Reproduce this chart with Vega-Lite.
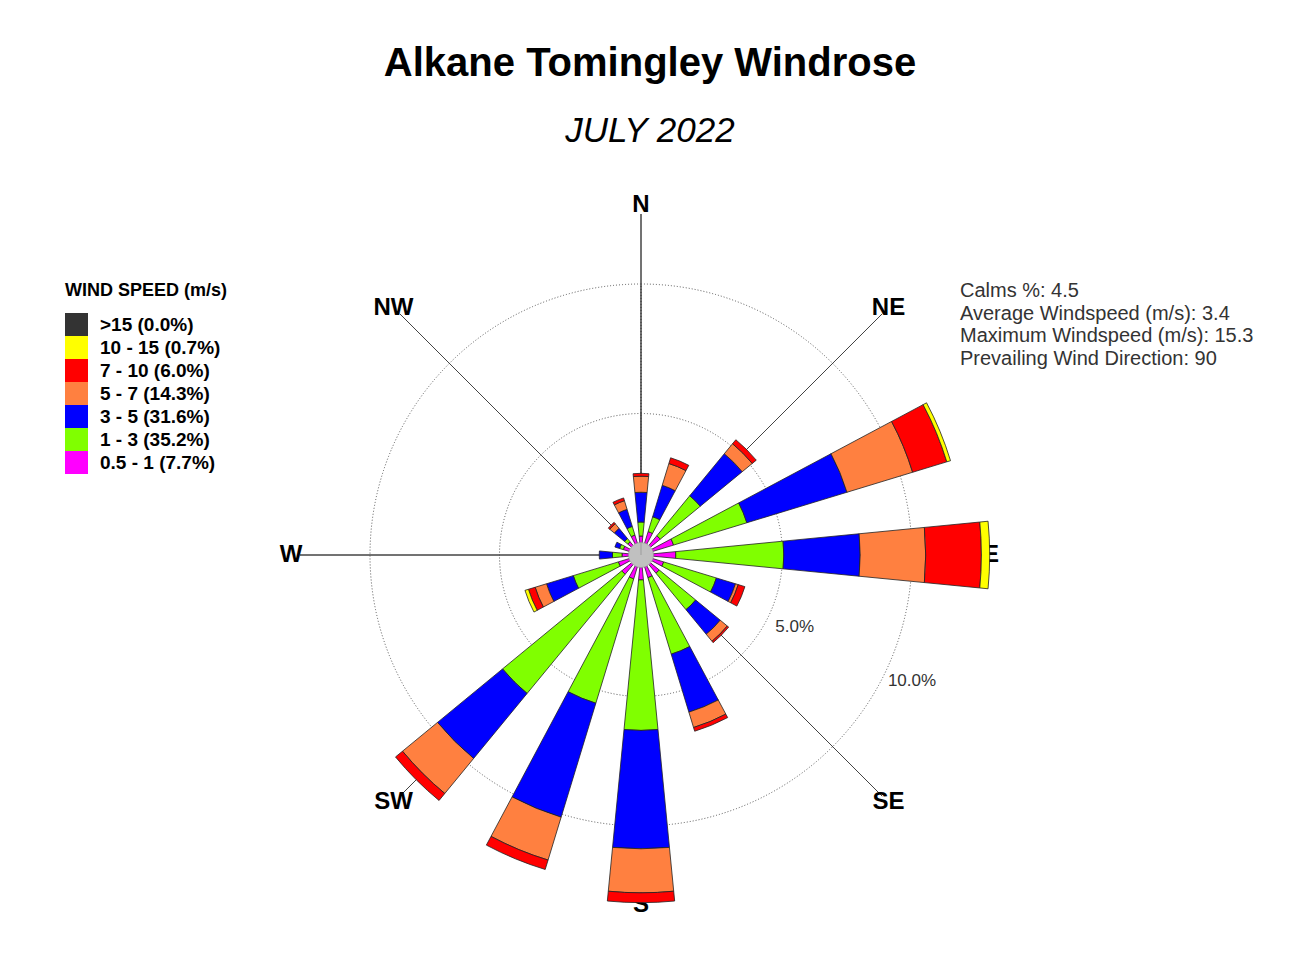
{
  "$schema": "https://vega.github.io/schema/vega-lite/v6.json",
  "width": 1282,
  "height": 720,
  "autosize": "none",
  "padding": {"left": 0, "top": 195, "right": 18, "bottom": 46},
  "background": "white",
  "title": {
    "text": "Alkane Tomingley Windrose",
    "subtitle": "JULY  2022",
    "anchor": "middle",
    "frame": "group",
    "dx": 9,
    "offset": 44,
    "font": "Liberation Sans",
    "fontSize": 40,
    "fontWeight": "bold",
    "color": "black",
    "subtitleFont": "Liberation Sans",
    "subtitleFontSize": 35,
    "subtitleFontStyle": "italic",
    "subtitleFontWeight": "normal",
    "subtitleColor": "black",
    "subtitlePadding": 30
  },
  "config": {
    "view": {"stroke": null},
    "legend": {
      "orient": "none",
      "padding": 0
    }
  },
  "datasets": {
    "rose": [
      {"dir": 0, "cls": "0.5 - 1 (7.7%)", "lo": 0.5, "pct": 0.27},
      {"dir": 0, "cls": "1 - 3 (35.2%)", "lo": 1, "pct": 0.54},
      {"dir": 0, "cls": "3 - 5 (31.6%)", "lo": 3, "pct": 1.15},
      {"dir": 0, "cls": "5 - 7 (14.3%)", "lo": 5, "pct": 0.62},
      {"dir": 0, "cls": "7 - 10 (6.0%)", "lo": 7, "pct": 0.11},
      {"dir": 22.5, "cls": "0.5 - 1 (7.7%)", "lo": 0.5, "pct": 0.48},
      {"dir": 22.5, "cls": "1 - 3 (35.2%)", "lo": 1, "pct": 0.6},
      {"dir": 22.5, "cls": "3 - 5 (31.6%)", "lo": 3, "pct": 1.27},
      {"dir": 22.5, "cls": "5 - 7 (14.3%)", "lo": 5, "pct": 0.88},
      {"dir": 22.5, "cls": "7 - 10 (6.0%)", "lo": 7, "pct": 0.23},
      {"dir": 45, "cls": "0.5 - 1 (7.7%)", "lo": 0.5, "pct": 0.5},
      {"dir": 45, "cls": "1 - 3 (35.2%)", "lo": 1, "pct": 2.0},
      {"dir": 45, "cls": "3 - 5 (31.6%)", "lo": 3, "pct": 2.1},
      {"dir": 45, "cls": "5 - 7 (14.3%)", "lo": 5, "pct": 0.5},
      {"dir": 45, "cls": "7 - 10 (6.0%)", "lo": 7, "pct": 0.2},
      {"dir": 67.5, "cls": "0.5 - 1 (7.7%)", "lo": 0.5, "pct": 0.85},
      {"dir": 67.5, "cls": "1 - 3 (35.2%)", "lo": 1, "pct": 2.96},
      {"dir": 67.5, "cls": "3 - 5 (31.6%)", "lo": 3, "pct": 4.04},
      {"dir": 67.5, "cls": "5 - 7 (14.3%)", "lo": 5, "pct": 2.65},
      {"dir": 67.5, "cls": "7 - 10 (6.0%)", "lo": 7, "pct": 1.38},
      {"dir": 67.5, "cls": "10 - 15 (0.7%)", "lo": 10, "pct": 0.15},
      {"dir": 90, "cls": "0.5 - 1 (7.7%)", "lo": 0.5, "pct": 0.88},
      {"dir": 90, "cls": "1 - 3 (35.2%)", "lo": 1, "pct": 4.17},
      {"dir": 90, "cls": "3 - 5 (31.6%)", "lo": 3, "pct": 2.95},
      {"dir": 90, "cls": "5 - 7 (14.3%)", "lo": 5, "pct": 2.53},
      {"dir": 90, "cls": "7 - 10 (6.0%)", "lo": 7, "pct": 2.15},
      {"dir": 90, "cls": "10 - 15 (0.7%)", "lo": 10, "pct": 0.32},
      {"dir": 112.5, "cls": "0.5 - 1 (7.7%)", "lo": 0.5, "pct": 0.45},
      {"dir": 112.5, "cls": "1 - 3 (35.2%)", "lo": 1, "pct": 2.13},
      {"dir": 112.5, "cls": "3 - 5 (31.6%)", "lo": 3, "pct": 0.77},
      {"dir": 112.5, "cls": "5 - 7 (14.3%)", "lo": 5, "pct": 0.11},
      {"dir": 112.5, "cls": "7 - 10 (6.0%)", "lo": 7, "pct": 0.27},
      {"dir": 135, "cls": "0.5 - 1 (7.7%)", "lo": 0.5, "pct": 0.45},
      {"dir": 135, "cls": "1 - 3 (35.2%)", "lo": 1, "pct": 1.82},
      {"dir": 135, "cls": "3 - 5 (31.6%)", "lo": 3, "pct": 1.23},
      {"dir": 135, "cls": "5 - 7 (14.3%)", "lo": 5, "pct": 0.35},
      {"dir": 135, "cls": "7 - 10 (6.0%)", "lo": 7, "pct": 0.07},
      {"dir": 157.5, "cls": "0.5 - 1 (7.7%)", "lo": 0.5, "pct": 0.45},
      {"dir": 157.5, "cls": "1 - 3 (35.2%)", "lo": 1, "pct": 3.09},
      {"dir": 157.5, "cls": "3 - 5 (31.6%)", "lo": 3, "pct": 2.34},
      {"dir": 157.5, "cls": "5 - 7 (14.3%)", "lo": 5, "pct": 0.62},
      {"dir": 157.5, "cls": "7 - 10 (6.0%)", "lo": 7, "pct": 0.15},
      {"dir": 180, "cls": "0.5 - 1 (7.7%)", "lo": 0.5, "pct": 0.5},
      {"dir": 180, "cls": "1 - 3 (35.2%)", "lo": 1, "pct": 5.81},
      {"dir": 180, "cls": "3 - 5 (31.6%)", "lo": 3, "pct": 4.57},
      {"dir": 180, "cls": "5 - 7 (14.3%)", "lo": 5, "pct": 1.7},
      {"dir": 180, "cls": "7 - 10 (6.0%)", "lo": 7, "pct": 0.38},
      {"dir": 202.5, "cls": "0.5 - 1 (7.7%)", "lo": 0.5, "pct": 0.5},
      {"dir": 202.5, "cls": "1 - 3 (35.2%)", "lo": 1, "pct": 5.02},
      {"dir": 202.5, "cls": "3 - 5 (31.6%)", "lo": 3, "pct": 4.6},
      {"dir": 202.5, "cls": "5 - 7 (14.3%)", "lo": 5, "pct": 1.73},
      {"dir": 202.5, "cls": "7 - 10 (6.0%)", "lo": 7, "pct": 0.38},
      {"dir": 225, "cls": "0.5 - 1 (7.7%)", "lo": 0.5, "pct": 0.5},
      {"dir": 225, "cls": "1 - 3 (35.2%)", "lo": 1, "pct": 5.96},
      {"dir": 225, "cls": "3 - 5 (31.6%)", "lo": 3, "pct": 3.25},
      {"dir": 225, "cls": "5 - 7 (14.3%)", "lo": 5, "pct": 1.75},
      {"dir": 225, "cls": "7 - 10 (6.0%)", "lo": 7, "pct": 0.35},
      {"dir": 247.5, "cls": "0.5 - 1 (7.7%)", "lo": 0.5, "pct": 0.45},
      {"dir": 247.5, "cls": "1 - 3 (35.2%)", "lo": 1, "pct": 1.82},
      {"dir": 247.5, "cls": "3 - 5 (31.6%)", "lo": 3, "pct": 1.08},
      {"dir": 247.5, "cls": "5 - 7 (14.3%)", "lo": 5, "pct": 0.46},
      {"dir": 247.5, "cls": "7 - 10 (6.0%)", "lo": 7, "pct": 0.27},
      {"dir": 247.5, "cls": "10 - 15 (0.7%)", "lo": 10, "pct": 0.14},
      {"dir": 270, "cls": "0.5 - 1 (7.7%)", "lo": 0.5, "pct": 0.27},
      {"dir": 270, "cls": "1 - 3 (35.2%)", "lo": 1, "pct": 0.37},
      {"dir": 270, "cls": "3 - 5 (31.6%)", "lo": 3, "pct": 0.51},
      {"dir": 292.5, "cls": "0.5 - 1 (7.7%)", "lo": 0.5, "pct": 0.25},
      {"dir": 292.5, "cls": "1 - 3 (35.2%)", "lo": 1, "pct": 0.15},
      {"dir": 292.5, "cls": "3 - 5 (31.6%)", "lo": 3, "pct": 0.19},
      {"dir": 315, "cls": "0.5 - 1 (7.7%)", "lo": 0.5, "pct": 0.2},
      {"dir": 315, "cls": "1 - 3 (35.2%)", "lo": 1, "pct": 0.16},
      {"dir": 315, "cls": "3 - 5 (31.6%)", "lo": 3, "pct": 0.51},
      {"dir": 315, "cls": "5 - 7 (14.3%)", "lo": 5, "pct": 0.23},
      {"dir": 315, "cls": "7 - 10 (6.0%)", "lo": 7, "pct": 0.07},
      {"dir": 337.5, "cls": "0.5 - 1 (7.7%)", "lo": 0.5, "pct": 0.34},
      {"dir": 337.5, "cls": "1 - 3 (35.2%)", "lo": 1, "pct": 0.35},
      {"dir": 337.5, "cls": "3 - 5 (31.6%)", "lo": 3, "pct": 0.69},
      {"dir": 337.5, "cls": "5 - 7 (14.3%)", "lo": 5, "pct": 0.35},
      {"dir": 337.5, "cls": "7 - 10 (6.0%)", "lo": 7, "pct": 0.11}
    ],
    "compass": [
      {"dir": 0, "name": "N", "kind": "cardinal"},
      {"dir": 45, "name": "NE", "kind": "intercardinal"},
      {"dir": 90, "name": "E", "kind": "cardinal"},
      {"dir": 135, "name": "SE", "kind": "intercardinal"},
      {"dir": 180, "name": "S", "kind": "cardinal"},
      {"dir": 225, "name": "SW", "kind": "intercardinal"},
      {"dir": 270, "name": "W", "kind": "cardinal"},
      {"dir": 315, "name": "NW", "kind": "intercardinal"}
    ],
    "rings": [
      {"pct": 5, "label": "5.0%"},
      {"pct": 10, "label": "10.0%"}
    ],
    "stats": [
      {"stat": "Calms %:  4.5"},
      {"stat": "Average Windspeed (m/s):  3.4"},
      {"stat": "Maximum Windspeed (m/s):  15.3"},
      {"stat": "Prevailing Wind Direction:  90"}
    ]
  },
  "layer": [
    {
      "data": {"name": "rings"},
      "mark": {"type": "arc", "theta": 0, "theta2": 6.283185307, "fill": null, "filled": false, "stroke": "#555555", "strokeWidth": 1, "strokeDash": [1, 2]},
      "encoding": {
        "radius": {"field": "pct", "type": "quantitative", "stack": null, "scale": {"type": "linear", "domain": [0, 10], "range": [12, 271], "zero": false, "nice": false}}
      }
    },
    {
      "data": {"name": "compass"},
      "mark": {"type": "arc", "radius": 341, "radius2": 0, "fill": null, "filled": false, "stroke": "#444444", "strokeWidth": 1},
      "encoding": {
        "theta": {"field": "dir", "type": "quantitative", "stack": null, "scale": {"type": "linear", "domain": [0, 360], "range": [0, 6.283185307]}},
        "theta2": {"field": "dir"},
        "strokeDash": {"field": "kind", "type": "nominal", "scale": {"domain": ["cardinal", "intercardinal"], "range": [[1, 0], [2, 3]]}, "legend": null}
      }
    },
    {
      "data": {"name": "compass"},
      "mark": {"type": "text", "radius": 350, "font": "Liberation Sans", "fontSize": 24, "fontWeight": "bold", "color": "black", "align": "center", "baseline": "middle"},
      "encoding": {
        "theta": {"field": "dir", "type": "quantitative", "stack": null, "scale": {"type": "linear", "domain": [0, 360], "range": [0, 6.283185307]}},
        "text": {"field": "name"}
      }
    },
    {
      "data": {"name": "rings"},
      "mark": {"type": "text", "radiusOffset": 28, "font": "Liberation Sans", "fontSize": 17, "color": "#333333", "align": "center", "baseline": "middle"},
      "encoding": {
        "theta": {"datum": 115, "type": "quantitative", "scale": {"type": "linear", "domain": [0, 360], "range": [0, 6.283185307]}},
        "radius": {"field": "pct", "type": "quantitative", "stack": null, "scale": {"type": "linear", "domain": [0, 10], "range": [12, 271], "zero": false, "nice": false}},
        "text": {"field": "label"}
      }
    },
    {
      "data": {"name": "rose"},
      "transform": [
        {"stack": "pct", "groupby": ["dir"], "sort": [{"field": "lo", "order": "ascending"}], "as": ["r0", "r1"]}
      ],
      "mark": {"type": "arc", "thetaOffset": -0.097, "theta2Offset": 0.097, "stroke": "#222222", "strokeWidth": 0.8},
      "encoding": {
        "theta": {"field": "dir", "type": "quantitative", "stack": null, "scale": {"type": "linear", "domain": [0, 360], "range": [0, 6.283185307]}},
        "theta2": {"field": "dir"},
        "radius": {"field": "r1", "type": "quantitative", "stack": null, "scale": {"type": "linear", "domain": [0, 10], "range": [12, 271], "zero": false, "nice": false}},
        "radius2": {"field": "r0"},
        "color": {
          "field": "cls",
          "type": "nominal",
          "scale": {
            "domain": [">15 (0.0%)", "10 - 15 (0.7%)", "7 - 10 (6.0%)", "5 - 7 (14.3%)", "3 - 5 (31.6%)", "1 - 3 (35.2%)", "0.5 - 1 (7.7%)"],
            "range": ["#333333", "#FFFF00", "#FF0000", "#FF8040", "#0000FF", "#80FF00", "#FF00FF"]
          },
          "legend": {
            "title": "WIND SPEED (m/s)",
            "orient": "none",
            "legendX": 65,
            "legendY": 87,
            "padding": 0,
            "titleFont": "Liberation Sans",
            "titleFontSize": 18,
            "titleFontWeight": "bold",
            "titleColor": "black",
            "titlePadding": 13,
            "labelFont": "Liberation Sans",
            "labelFontSize": 19,
            "labelFontWeight": "bold",
            "labelColor": "black",
            "labelOffset": 12,
            "symbolType": "square",
            "symbolSize": 529,
            "symbolStrokeWidth": 0,
            "symbolOpacity": 1,
            "rowPadding": 0
          }
        }
      }
    },
    {
      "data": {"values": [{"calm": 4.5}]},
      "mark": {"type": "arc", "theta": 0, "theta2": 6.283185307, "radius": 12.5, "fill": "#C0C0C0", "stroke": "#A0A0A0", "strokeWidth": 0.6},
      "encoding": {}
    },
    {
      "data": {"name": "stats"},
      "mark": {"type": "point", "opacity": 0},
      "encoding": {
        "shape": {
          "field": "stat",
          "type": "nominal",
          "scale": {
            "domain": ["Calms %:  4.5", "Average Windspeed (m/s):  3.4", "Maximum Windspeed (m/s):  15.3", "Prevailing Wind Direction:  90"],
            "range": ["circle", "circle", "circle", "circle"]
          },
          "legend": {
            "title": null,
            "orient": "none",
            "legendX": 940,
            "legendY": 86,
            "padding": 0,
            "labelFont": "Liberation Sans",
            "labelFontSize": 20,
            "labelFontWeight": "normal",
            "labelColor": "#333333",
            "labelOffset": 0,
            "labelLimit": 0,
            "symbolSize": 0,
            "symbolOpacity": 0,
            "symbolStrokeWidth": 0,
            "rowPadding": 2.7
          }
        }
      }
    }
  ]
}
